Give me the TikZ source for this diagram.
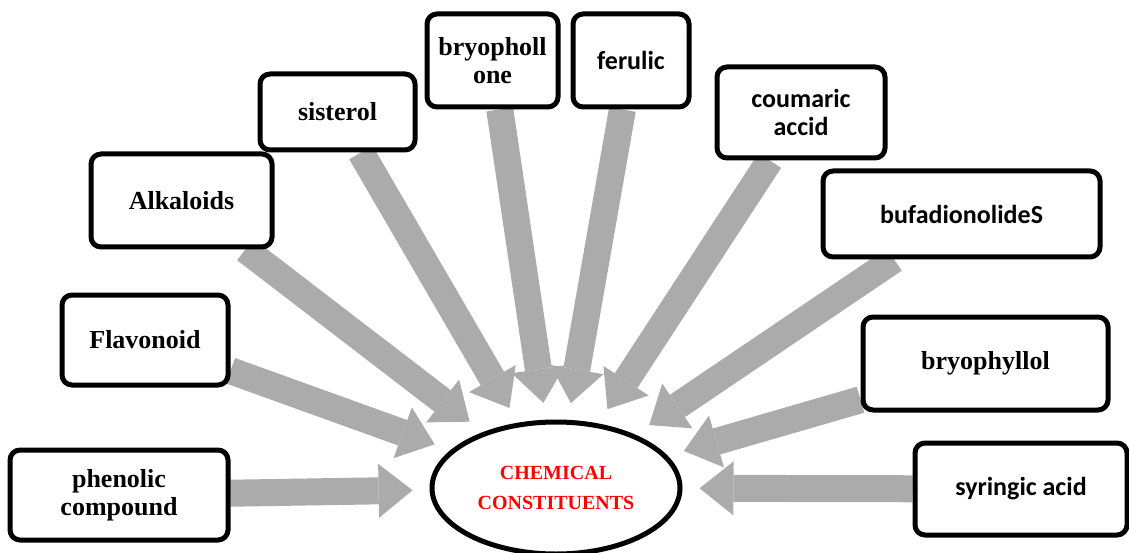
\documentclass[tikz,border=0pt]{standalone}
\usepackage{fontspec}
\setmainfont{Liberation Serif}
\newfontfamily\calibri{Carlito}
\usetikzlibrary{arrows.meta}
\usetikzlibrary{shapes.geometric}
\usetikzlibrary{backgrounds}
\definecolor{arrowgray}{RGB}{171,171,171}

\begin{document}
\begin{tikzpicture}[x=1pt,y=-1pt,
    box/.style={draw,line width=5pt,rounded corners=10pt,fill=white,align=center,inner sep=0pt,font=\fontsize{26}{28}\selectfont\bfseries},
    sansbox/.style={box,font=\fontsize{26}{28}\selectfont\calibri\bfseries},
    bigarrow/.style={draw=arrowgray,line width=27pt,-{Triangle[length=34pt,width=54pt,line width=0pt]},shorten >=17pt}]
      \useasboundingbox (0,0) rectangle (1129,553);

      \node (cc) at (556,488) [ellipse,draw,line width=5pt,minimum width=248pt,minimum height=132pt,inner sep=0pt,align=center,text=red,font=\fontsize{20}{30}\selectfont\bfseries]{CHEMICAL\\CONSTITUENTS};

      \node (phen) at (119,495) [box,minimum width=218pt,minimum height=90pt]{phenolic\\compound};
      \node (flav) at (145,340) [box,minimum width=166pt,minimum height=90pt]{Flavonoid};
      \node (alka) at (181.5,200.5) [box,minimum width=181pt,minimum height=93pt]{Alkaloids};
      \node (sist) at (337.5,112) [box,minimum width=155pt,minimum height=76pt]{sisterol};
      \node (bryo) at (492.5,60.5) [box,minimum width=131pt,minimum height=93pt]{bryopholl\\one};
      \node (feru) at (631,60.5) [sansbox,minimum width=116pt,minimum height=93pt]{ferulic};
      \node (coum) at (801,112.5) [sansbox,minimum width=168pt,minimum height=91pt]{coumaric\\accid};
      \node (bufa) at (961.5,214) [sansbox,minimum width=277pt,minimum height=86pt]{bufadionolideS};
      \node (bryl) at (985.5,363.5) [box,minimum width=245pt,minimum height=93pt]{bryophyllol};
      \node (syri) at (1021,489) [sansbox,minimum width=212pt,minimum height=92pt]{syringic acid};

      \begin{scope}[on background layer]
        \draw[bigarrow] (phen) -- (cc);
        \draw[bigarrow] (flav) -- (cc);
        \draw[bigarrow] (alka) -- (cc);
        \draw[bigarrow] (sist) -- (cc);
        \draw[bigarrow] (bryo) -- (cc);
        \draw[bigarrow] (feru) -- (cc);
        \draw[bigarrow] (coum) -- (cc);
        \draw[bigarrow] (bufa) -- (cc);
        \draw[bigarrow] (bryl) -- (cc);
        \draw[bigarrow] (syri) -- (cc);
      \end{scope}
    \end{tikzpicture}
\end{document}
